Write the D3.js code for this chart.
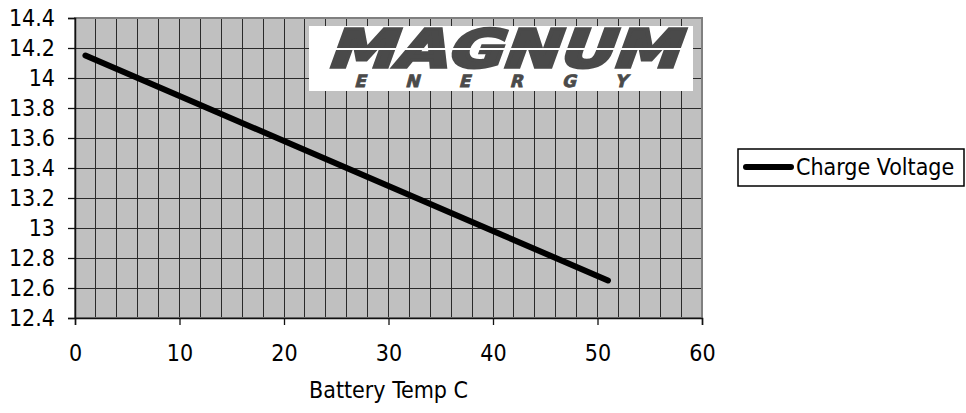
<!DOCTYPE html>
<html>
<head>
<meta charset="utf-8">
<script src="https://cdn.jsdelivr.net/npm/d3@7/dist/d3.min.js"></script>
<style>
  body { margin: 0; background: #fff; }
  text { font-family: "DejaVu Sans Condensed", "DejaVu Sans", sans-serif; }
</style>
</head>
<body>
<svg id="chart"></svg>
<script>
// battery temp (C) vs charge voltage
let temps = [1, 11, 21, 31, 41, 51];
let volts = [14.15, 13.85, 13.55, 13.25, 12.95, 12.65];
let xTicks = [0, 10, 20, 30, 40, 50, 60];
let yTicks = [12.4, 12.6, 12.8, 13, 13.2, 13.4, 13.6, 13.8, 14, 14.2, 14.4];
let seriesName = "Charge Voltage";
let xTitle = "Battery Temp C";

let width = 966, height = 413;
let plot = {left: 75, right: 702, top: 18, bottom: 318};

let svg = d3.select("#chart")
    .attr("width", width)
    .attr("height", height);

let x = d3.scaleLinear().domain([0, 60]).range([plot.left, plot.right]);
let y = d3.scaleLinear().domain([12.4, 14.4]).range([plot.bottom, plot.top]);

// plot background
svg.append("rect")
    .attr("x", plot.left).attr("y", plot.top)
    .attr("width", plot.right - plot.left)
    .attr("height", plot.bottom - plot.top)
    .style("fill", "#c0c0c0");

// grid
let g = svg.append("g");
g.selectAll("line.v")
    .data(d3.range(2, 60, 2))
    .enter().append("line")
    .attr("x1", d => x(d)).attr("x2", d => x(d))
    .attr("y1", plot.top).attr("y2", plot.bottom)
    .style("stroke", "#2a2a2a").style("stroke-width", 1)
    .attr("shape-rendering", "crispEdges");
g.selectAll("line.h")
    .data(yTicks.slice(1, -1))
    .enter().append("line")
    .attr("y1", d => y(d)).attr("y2", d => y(d))
    .attr("x1", plot.left).attr("x2", plot.right)
    .style("stroke", "#2a2a2a").style("stroke-width", 1)
    .attr("shape-rendering", "crispEdges");

// plot border (gray)
svg.append("rect")
    .attr("x", plot.left).attr("y", plot.top)
    .attr("width", plot.right - plot.left)
    .attr("height", plot.bottom - plot.top)
    .style("fill", "none")
    .style("stroke", "#808080")
    .style("stroke-width", 2);

// logo
let logo = svg.append("g");
logo.append("rect")
    .attr("x", 309).attr("y", 26).attr("width", 384).attr("height", 65)
    .style("fill", "#fff");
logo.append("text")
    .attr("transform", "translate(326,67) skewX(-20)")
    .attr("textLength", 352)
    .attr("lengthAdjust", "spacingAndGlyphs")
    .style("font-family", "'DejaVu Sans', sans-serif")
    .style("font-weight", "bold")
    .style("font-size", "52px")
    .style("fill", "#4a4a4a")
    .style("stroke", "#4a4a4a")
    .style("stroke-width", 3.5)
    .style("stroke-linejoin", "miter")
    .text("MAGNUM");
logo.append("rect")
    .attr("x", 318).attr("y", 48).attr("width", 372).attr("height", 2)
    .style("fill", "#fff");
logo.append("text")
    .attr("transform", "translate(354,87) skewX(-15)")
    .attr("textLength", 273)
    .attr("lengthAdjust", "spacing")
    .style("font-family", "'DejaVu Sans', sans-serif")
    .style("font-weight", "bold")
    .style("font-size", "17px")
    .style("fill", "#4a4a4a")
    .style("stroke", "#4a4a4a")
    .style("stroke-width", 0.8)
    .text("ENERGY");

// axes
let yAxis = d3.axisLeft(y).tickValues(yTicks).tickSize(7).tickPadding(13)
    .tickFormat(d => d3.format("")(+d.toFixed(1)));
let xAxis = d3.axisBottom(x).tickValues(xTicks).tickSize(7).tickPadding(20);

let ya = svg.append("g").attr("transform", "translate(" + plot.left + ",0)").call(yAxis);
let xa = svg.append("g").attr("transform", "translate(0," + plot.bottom + ")").call(xAxis);
[ya, xa].forEach(a => {
    a.select(".domain").style("stroke", "#111").style("stroke-width", 1.5);
    a.selectAll(".tick line").style("stroke", "#111").style("stroke-width", 1.3);
    a.selectAll("text")
        .style("font-family", "'DejaVu Sans Condensed', 'DejaVu Sans', sans-serif")
        .style("font-size", "23px")
        .style("fill", "#000");
});

// x axis title
svg.append("text")
    .attr("x", (plot.left + plot.right) / 2)
    .attr("y", 398)
    .attr("text-anchor", "middle")
    .style("font-size", "23px")
    .text(xTitle);

// series line
let line = d3.line().x((d, i) => x(temps[i])).y(d => y(d));
svg.append("path")
    .datum(volts)
    .attr("d", line)
    .style("fill", "none")
    .style("stroke", "#000")
    .style("stroke-width", 6)
    .style("stroke-linecap", "round");

// legend
let leg = svg.append("g");
leg.append("rect")
    .attr("x", 738).attr("y", 149).attr("width", 226).attr("height", 37)
    .style("fill", "#fff").style("stroke", "#000").style("stroke-width", 1.5);
leg.append("line")
    .attr("x1", 746).attr("x2", 791).attr("y1", 167).attr("y2", 167)
    .style("stroke", "#000").style("stroke-width", 6)
    .style("stroke-linecap", "round");
leg.append("text")
    .attr("x", 796).attr("y", 175)
    .style("font-size", "23px")
    .text(seriesName);
</script>
</body>
</html>
